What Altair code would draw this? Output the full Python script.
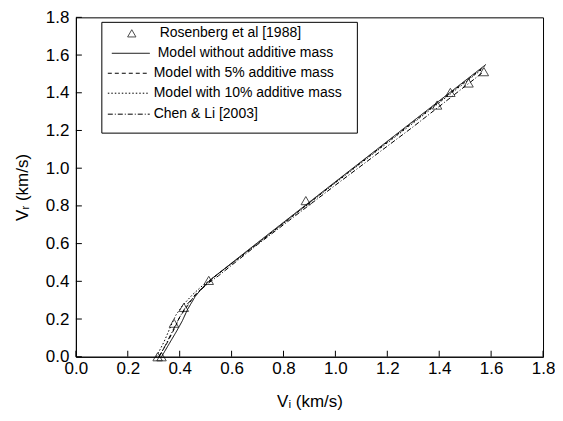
import altair as alt
import pandas as pd

# ---------------- data ----------------
ros_vi = [0.315, 0.33, 0.378, 0.416, 0.512, 0.886, 1.392, 1.443, 1.513, 1.572]
ros_vr = [0.0, 0.0, 0.178, 0.262, 0.405, 0.828, 1.335, 1.402, 1.452, 1.512]

m0_vi = [0.33, 0.36, 0.39, 0.41, 0.43, 0.46, 0.49, 0.52, 0.70, 1.00, 1.30, 1.58]
m0_vr = [0.00, 0.07, 0.14, 0.19, 0.25, 0.32, 0.37, 0.41, 0.605, 0.928, 1.25, 1.55]

m5_vi = [0.32, 0.35, 0.38, 0.40, 0.43, 0.46, 0.50, 0.53, 0.70, 1.00, 1.30, 1.575]
m5_vr = [0.00, 0.07, 0.15, 0.21, 0.27, 0.33, 0.38, 0.42, 0.60, 0.925, 1.245, 1.54]

m10_vi = [0.31, 0.34, 0.365, 0.385, 0.41, 0.45, 0.49, 0.53, 0.70, 1.00, 1.30, 1.57]
m10_vr = [0.00, 0.08, 0.16, 0.22, 0.27, 0.33, 0.38, 0.42, 0.60, 0.922, 1.24, 1.53]

cl_vi = [0.32, 0.345, 0.37, 0.40, 0.43, 0.47, 0.51, 0.55, 0.70, 1.00, 1.30, 1.57]
cl_vr = [0.00, 0.06, 0.13, 0.21, 0.28, 0.34, 0.39, 0.43, 0.595, 0.91, 1.22, 1.51]

series_names = ["Model without additive mass", "Model with 5% additive mass",
                "Model with 10% additive mass", "Chen & Li [2003]"]
points_name = "Rosenberg et al [1988]"
tick_values = [0.0, 0.2, 0.4, 0.6, 0.8, 1.0, 1.2, 1.4, 1.6, 1.8]

# ---------------- styles ----------------
dashes = [[1, 0], [4, 3], [1.5, 2], [5, 2, 1, 2]]
FONT = "Liberation Sans"
W, H = 468, 340

rows = []
for name, xs, ys in zip(series_names, [m0_vi, m5_vi, m10_vi, cl_vi],
                        [m0_vr, m5_vr, m10_vr, cl_vr]):
    for i, (a, b) in enumerate(zip(xs, ys)):
        rows.append({"series": name, "vi": a, "vr": b, "i": i})
lines_df = pd.DataFrame(rows)
pts_df = pd.DataFrame({"vi": ros_vi, "vr": ros_vr})
ticks_df = pd.DataFrame({"t": tick_values})

xscale = alt.Scale(domain=[0, 1.8], nice=False, zero=False)
yscale = alt.Scale(domain=[0, 1.8], nice=False, zero=False)

axis_common = dict(values=tick_values, format=".1f", ticks=False, grid=False,
                   domainColor="black", domainWidth=1, labelColor="black",
                   labelFont=FONT, labelFontSize=17, labelOverlap=False,
                   labelFlush=False, labelBound=False, titleFont=FONT,
                   titleFontSize=17, titleFontWeight="normal", titleColor="black")
xaxis = alt.Axis(title="V\u1d62 (km/s)", labelPadding=4, titlePadding=17, **axis_common)
yaxis = alt.Axis(title="V\u1d63 (km/s)", labelPadding=7, titlePadding=14, **axis_common)

lines = alt.Chart(lines_df).mark_line(color="black", strokeWidth=1).encode(
    x=alt.X("vi:Q", scale=xscale, axis=xaxis),
    y=alt.Y("vr:Q", scale=yscale, axis=yaxis),
    strokeDash=alt.StrokeDash("series:N",
                              scale=alt.Scale(domain=series_names, range=dashes),
                              legend=None),
    detail="series:N",
    order="i:Q",
)

points = alt.Chart(pts_df).mark_point(shape="triangle-up", filled=False,
                                      color="black", size=90, strokeWidth=1).encode(
    x=alt.X("vi:Q", scale=xscale, axis=xaxis),
    y=alt.Y("vr:Q", scale=yscale, axis=yaxis),
)

xticks = alt.Chart(ticks_df).mark_rule(color="black", strokeWidth=1).encode(
    x=alt.X("t:Q", scale=xscale, axis=xaxis), y=alt.value(H), y2=alt.value(H - 6))
yticks = alt.Chart(ticks_df).mark_rule(color="black", strokeWidth=1).encode(
    y=alt.Y("t:Q", scale=yscale, axis=yaxis), x=alt.value(0), x2=alt.value(6))

# ---------------- legend (manual) ----------------
box_x0, box_x1, box_y0, box_y1 = 26, 282, 5, 116
row_y = [16, 36, 56, 76, 97]
one = pd.DataFrame({"k": [0]})

legend_layers = [
    alt.Chart(one).mark_rect(fill="white", stroke="black", strokeWidth=1).encode(
        x=alt.value(box_x0), x2=alt.value(box_x1),
        y=alt.value(box_y0), y2=alt.value(box_y1)),
    alt.Chart(one).mark_point(shape="triangle-up", filled=False, color="black",
                              size=70, strokeWidth=1).encode(
        x=alt.value(56), y=alt.value(row_y[0])),
    alt.Chart(pd.DataFrame({"label": [points_name]})).mark_text(
        align="left", baseline="middle", font=FONT, fontSize=14, color="black").encode(
        x=alt.value(84), y=alt.value(row_y[0]), text="label:N"),
]
line_x0 = [36, 32, 32, 32]
text_x = [82, 78, 78, 78]
for k, name in enumerate(series_names):
    legend_layers.append(
        alt.Chart(one).mark_rule(color="black", strokeWidth=1,
                                 strokeDash=dashes[k]).encode(
            x=alt.value(line_x0[k]), x2=alt.value(74), y=alt.value(row_y[k + 1])))
    legend_layers.append(
        alt.Chart(pd.DataFrame({"label": [name]})).mark_text(
            align="left", baseline="middle", font=FONT, fontSize=14,
            color="black").encode(
            x=alt.value(text_x[k]), y=alt.value(row_y[k + 1]), text="label:N"))

chart = alt.layer(lines, points, xticks, yticks, *legend_layers).properties(
    width=W, height=H,
    autosize=alt.AutoSizeParams(type="none"),
    padding={"left": 68, "top": 9, "right": 12, "bottom": 55},
    background="white",
).configure_view(stroke="black", strokeWidth=1)

chart.save("out.html", embed_options={"renderer": "svg", "actions": False})
